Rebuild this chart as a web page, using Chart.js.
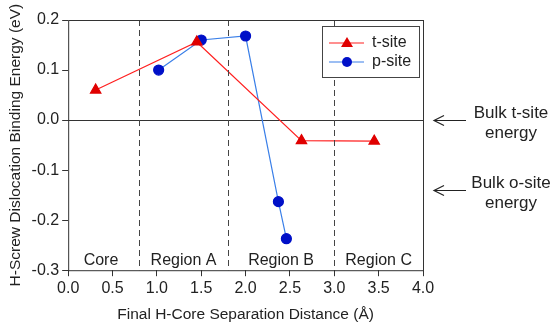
<!DOCTYPE html>
<html>
<head>
<meta charset="utf-8">
<script src="https://cdn.jsdelivr.net/npm/chart.js@4"></script>
<style>
  html, body { margin: 0; padding: 0; background: #fff; }
  #wrap { width: 555px; height: 330px; position: relative; }
</style>
</head>
<body>
<div id="wrap"><canvas id="bindingChart"></canvas></div>
<script>
// H-core separation (Å) vs binding energy (eV)
const tSiteX = [0.31, 1.45, 2.63, 3.45];
const tSiteY = [0.060, 0.156, -0.041, -0.042];
const pSiteX = [1.02, 1.50, 2.00, 2.37, 2.46];
const pSiteY = [0.100, 0.160, 0.168, -0.163, -0.237];

const regionBounds = [0.8, 1.8, 3.0];
const regionLabels = ['Core', 'Region A', 'Region B', 'Region C'];
const regionCenters = [0.37, 1.3, 2.4, 3.5];

const bulkLabels = [['Bulk t-site', 'energy'], ['Bulk o-site', 'energy']];
const bulkLevels = [0.0, -0.139];

const FONT = "'Liberation Sans', Arial, sans-serif";
const INK = '#222';

const toPoints = (xs, ys) => xs.map((x, i) => ({ x, y: ys[i] }));

// dashed region dividers, region names, legend box and right side notes
const annotations = {
    id: 'annotations',
    afterDatasetsDraw(chart) {
        const { ctx, chartArea, scales: { x, y } } = chart;
        ctx.save();

        ctx.strokeStyle = '#444';
        ctx.lineWidth = 1;
        ctx.setLineDash([6, 4]);
        regionBounds.forEach(b => {
            const px = Math.round(x.getPixelForValue(b)) + 0.5;
            ctx.beginPath();
            ctx.moveTo(px, chartArea.top);
            ctx.lineTo(px, chartArea.bottom);
            ctx.stroke();
        });
        ctx.setLineDash([]);

        ctx.fillStyle = INK;
        ctx.font = '16px ' + FONT;
        ctx.textAlign = 'center';
        ctx.textBaseline = 'alphabetic';
        regionLabels.forEach((t, i) => {
            ctx.fillText(t, x.getPixelForValue(regionCenters[i]), chartArea.bottom - 5);
        });

        // legend
        const lx = 322, ly = 26, lw = 97, lh = 51;
        ctx.fillStyle = '#fff';
        ctx.fillRect(lx, ly, lw, lh);
        ctx.strokeStyle = '#444';
        ctx.strokeRect(lx + 0.5, ly + 0.5, lw, lh);
        chart.data.datasets.forEach((ds, i) => {
            const cy = ly + 17 + i * 19;
            ctx.strokeStyle = ds.borderColor;
            ctx.lineWidth = 1.2;
            ctx.beginPath();
            ctx.moveTo(lx + 7, cy);
            ctx.lineTo(lx + 42, cy);
            ctx.stroke();
            ctx.fillStyle = ds.pointBackgroundColor;
            ctx.beginPath();
            if (ds.pointStyle === 'triangle') {
                ctx.moveTo(lx + 25, cy - 6);
                ctx.lineTo(lx + 31, cy + 4);
                ctx.lineTo(lx + 19, cy + 4);
                ctx.closePath();
            } else {
                ctx.arc(lx + 25, cy, 5, 0, Math.PI * 2);
            }
            ctx.fill();
            ctx.fillStyle = INK;
            ctx.font = '16px ' + FONT;
            ctx.textAlign = 'left';
            ctx.textBaseline = 'middle';
            ctx.fillText(ds.label, lx + 50, cy);
        });

        // bulk energy arrows
        bulkLevels.forEach((lv, i) => {
            const py = Math.round(y.getPixelForValue(lv)) + 0.5;
            const ax = chartArea.right + 11;
            ctx.strokeStyle = INK;
            ctx.lineWidth = 1.2;
            ctx.beginPath();
            ctx.moveTo(ax + 32, py);
            ctx.lineTo(ax, py);
            ctx.moveTo(ax + 10, py - 5);
            ctx.lineTo(ax, py);
            ctx.lineTo(ax + 10, py + 5);
            ctx.stroke();
            ctx.fillStyle = INK;
            ctx.font = '17px ' + FONT;
            ctx.textAlign = 'center';
            ctx.textBaseline = 'middle';
            ctx.fillText(bulkLabels[i][0], 511, py - 7);
            ctx.fillText(bulkLabels[i][1], 511, py + 13);
        });

        // frame
        ctx.strokeStyle = '#333';
        ctx.lineWidth = 1;
        ctx.strokeRect(chartArea.left + 0.5, chartArea.top + 0.5,
            chartArea.right - chartArea.left, chartArea.bottom - chartArea.top);
        ctx.restore();
    }
};

new Chart(document.getElementById('bindingChart'), {
    type: 'line',
    data: {
        datasets: [{
            label: 't-site',
            data: toPoints(tSiteX, tSiteY),
            borderColor: '#ff2020',
            borderWidth: 1.2,
            pointStyle: 'triangle',
            pointRadius: 6,
            pointBackgroundColor: '#e00000',
            pointBorderColor: '#e00000',
            tension: 0
        }, {
            label: 'p-site',
            data: toPoints(pSiteX, pSiteY),
            borderColor: '#3a7fe8',
            borderWidth: 1.2,
            pointStyle: 'circle',
            pointRadius: 5,
            pointBackgroundColor: '#0010c8',
            pointBorderColor: '#0010c8',
            tension: 0
        }]
    },
    options: {
        responsive: true,
        maintainAspectRatio: false,
        animation: false,
        layout: { padding: { top: 20, right: 132, left: 2, bottom: 2 } },
        plugins: {
            legend: { display: false },
            tooltip: { enabled: false }
        },
        scales: {
            x: {
                type: 'linear',
                min: 0, max: 4,
                ticks: { stepSize: 0.5, color: INK, font: { family: FONT, size: 16 }, callback: v => v.toFixed(1) },
                grid: { display: true, drawOnChartArea: false, tickLength: 6, tickColor: '#333' },
                border: { display: false },
                title: { display: true, text: 'Final H-Core Separation Distance (Å)', color: INK, font: { family: FONT, size: 15.5 }, padding: { top: 4 } }
            },
            y: {
                min: -0.3, max: 0.2,
                ticks: { stepSize: 0.1, color: INK, font: { family: FONT, size: 16 }, callback: v => v.toFixed(1) },
                grid: {
                    color: ctx => Math.abs(ctx.tick.value) < 1e-9 ? '#333' : 'rgba(0,0,0,0)',
                    tickLength: 6, tickColor: '#333'
                },
                border: { display: false },
                title: { display: true, text: 'H-Screw Dislocation Binding Energy (eV)', color: INK, font: { family: FONT, size: 15.5 }, padding: { bottom: 4 } }
            }
        }
    },
    plugins: [annotations]
});
</script>
</body>
</html>
